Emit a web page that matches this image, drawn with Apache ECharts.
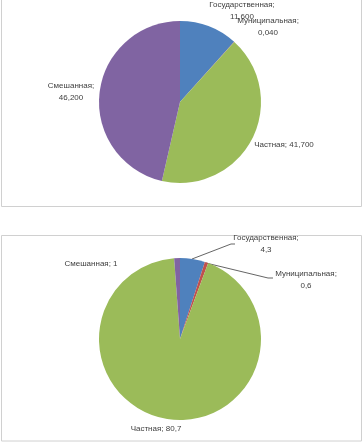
<!DOCTYPE html>
<html><head><meta charset="utf-8">
<script src="https://cdn.jsdelivr.net/npm/echarts@6/dist/echarts.min.js"></script>
<style>html,body{margin:0;padding:0;background:#fff}#c{width:364px;height:443px}</style>
</head><body><div id="c"></div>
<script>
const categories = ['Государственная', 'Муниципальная', 'Частная', 'Смешанная'];
const valuesTop = [11.6, 0.04, 41.7, 46.2];
const valuesBottom = [4.3, 0.6, 80.7, 1];
const colors = ['#4F81BD', '#C0504D', '#9BBB59', '#8064A2'];

function fmt(v, dec) { return (dec ? v.toFixed(dec) : String(v)).replace('.', ','); }

// label placement (style only)
const topLabelPos = [
  {x: 242, y: 11, multi: true},
  {x: 268, y: 27, multi: true},
  {x: 284, y: 145, multi: false},
  {x: 71, y: 92, multi: true}
];
const bottomLabelPos = [
  {x: 266, y: 244, multi: true, line: [[192, 259], [231, 244], [235, 244]]},
  {x: 306, y: 280, multi: true, line: [[206, 263], [268, 278], [273, 278]]},
  {x: 156, y: 429, multi: false},
  {x: 91, y: 264, multi: false}
];

const font = {fontFamily: '"Liberation Sans Narrow", "Liberation Sans", Arial, sans-serif', fontSize: 8, color: '#404040', lineHeight: 12};

function mkData(vals) {
  return categories.map((n, i) => ({name: n, value: vals[i], itemStyle: {color: colors[i]}}));
}

function mkSeries(vals, dec, center, pos, showLines) {
  return {
    type: 'pie',
    center: center,
    radius: 81,
    startAngle: 90,
    clockwise: true,
    animation: false,
    silent: true,
    avoidLabelOverlap: false,
    data: mkData(vals),
    itemStyle: {borderWidth: 0},
    label: Object.assign({
      show: true,
      position: 'outside',
      align: 'center',
      formatter: p => pos[p.dataIndex].multi ? p.name + ';\n' + fmt(p.value, dec) : p.name + '; ' + fmt(p.value, dec)
    }, font),
    labelLine: {show: showLines, lineStyle: {color: '#222', width: 0.7}, length: 5, length2: 5},
    labelLayout: function (params) {
      const p = pos[params.dataIndex];
      const r = {x: p.x, y: p.y, align: 'center', verticalAlign: 'middle', hideOverlap: false};
      if (p.line) r.labelLinePoints = p.line;
      return r;
    }
  };
}

const chart = echarts.init(document.getElementById('c'), null, {renderer: 'canvas'});
const s1 = mkSeries(valuesTop, 3, [180, 102], topLabelPos, false);
const s2 = mkSeries(valuesBottom, 0, [180, 339], bottomLabelPos, true);
s2.data.forEach((d, i) => {
  if (i === 2 || i === 3) d.labelLine = {show: false};
});
chart.setOption({
  backgroundColor: '#fff',
  graphic: [
    {type: 'rect', shape: {x: 1.5, y: -5, width: 360, height: 211.5}, style: {fill: 'none', stroke: '#d0d0d0', lineWidth: 1}, z: -1},
    {type: 'rect', shape: {x: 1.5, y: 235.5, width: 360, height: 205.5}, style: {fill: 'none', stroke: '#d0d0d0', lineWidth: 1}, z: -1}
  ],
  series: [s1, s2]
});
</script></body></html>
